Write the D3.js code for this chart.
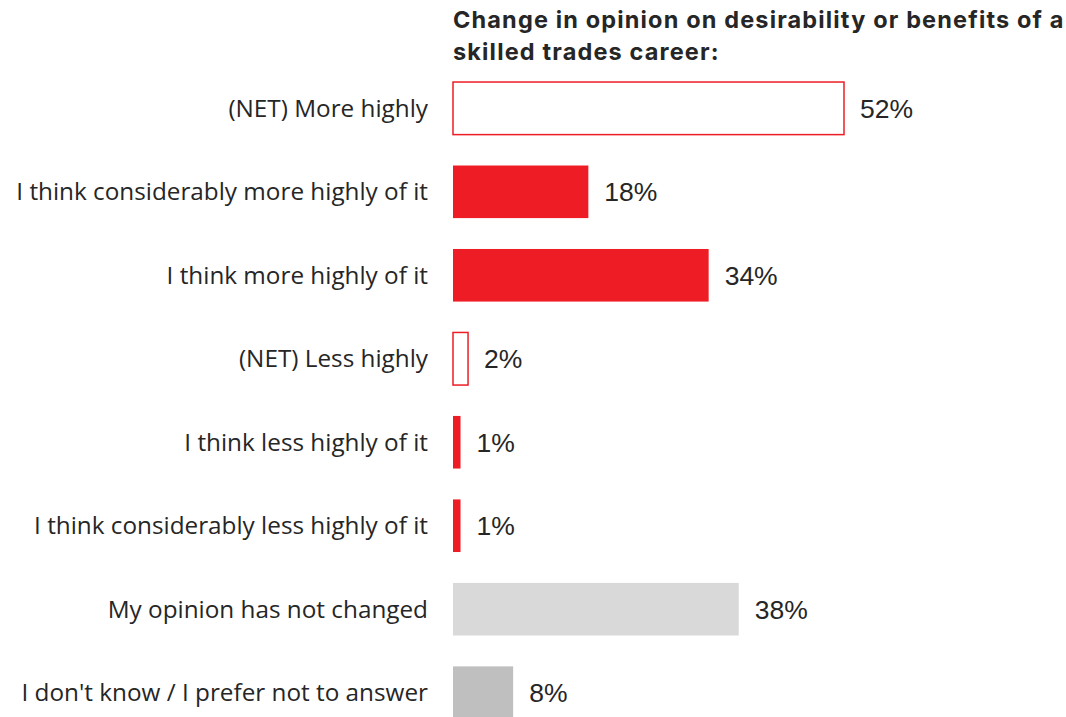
<!DOCTYPE html>
<html>
<head>
<meta charset="utf-8">
<script src="https://cdn.jsdelivr.net/npm/d3@7"></script>
<style>
  body { margin: 0; background: #fff; }
  svg { display: block; }
</style>
</head>
<body>
<svg id="chart" width="1066" height="717"></svg>
<script>
// Survey responses: change in opinion on a skilled trades career
const categories = [
  "(NET) More highly",
  "I think considerably more highly of it",
  "I think more highly of it",
  "(NET) Less highly",
  "I think less highly of it",
  "I think considerably less highly of it",
  "My opinion has not changed",
  "I don't know / I prefer not to answer"
];
const values = [52, 18, 34, 2, 1, 1, 38, 8];
const styles = ["net", "red", "red", "net", "red", "red", "light", "mid"];
const titleLines = [
  "Change in opinion on desirability or benefits of a",
  "skilled trades career:"
];

const fills = { net: "#ffffff", red: "#EE1C25", light: "#D9D9D9", mid: "#BFBFBF" };
const strokes = { net: "#EE1C25", red: "none", light: "none", mid: "none" };

const svg = d3.select("#chart");
const left = 453;

const x = d3.scaleLinear().domain([0, 52]).range([left, 844]);
const y = d3.scaleBand().domain(categories).range([67, 734]).paddingInner(0.37).paddingOuter(0.18);

// Title
svg.append("g").selectAll("text").data(titleLines).join("text")
  .attr("x", left)
  .attr("y", (d, i) => 28 + i * 32)
  .attr("font-family", "Inter, 'Open Sans', sans-serif")
  .attr("font-weight", 700)
  .attr("font-size", 23.5)
  .attr("letter-spacing", 1.15)
  .attr("fill", "#262626")
  .text(d => d);

const rows = svg.append("g").selectAll("g").data(categories).join("g");

// Bars
rows.append("rect")
  .attr("x", x(0))
  .attr("y", d => y(d))
  .attr("height", y.bandwidth())
  .attr("width", (d, i) => x(values[i]) - x(0))
  .attr("fill", (d, i) => fills[styles[i]])
  .attr("stroke", (d, i) => strokes[styles[i]])
  .attr("stroke-width", 1.5);

// Category labels
rows.append("text")
  .attr("x", 428)
  .attr("y", d => y(d) + y.bandwidth() / 2)
  .attr("dy", "0.35em")
  .attr("text-anchor", "end")
  .attr("font-family", "'Open Sans', Inter, sans-serif")
  .attr("font-size", 24.3)
  .attr("fill", "#262626")
  .text(d => d);

// Value labels
rows.append("text")
  .attr("x", (d, i) => x(values[i]) + 16)
  .attr("y", d => y(d) + y.bandwidth() / 2)
  .attr("dy", "0.36em")
  .attr("font-family", "'Liberation Sans', Arial, sans-serif")
  .attr("font-size", 26.5)
  .attr("fill", "#262626")
  .text((d, i) => values[i] + "%");
</script>
</body>
</html>
